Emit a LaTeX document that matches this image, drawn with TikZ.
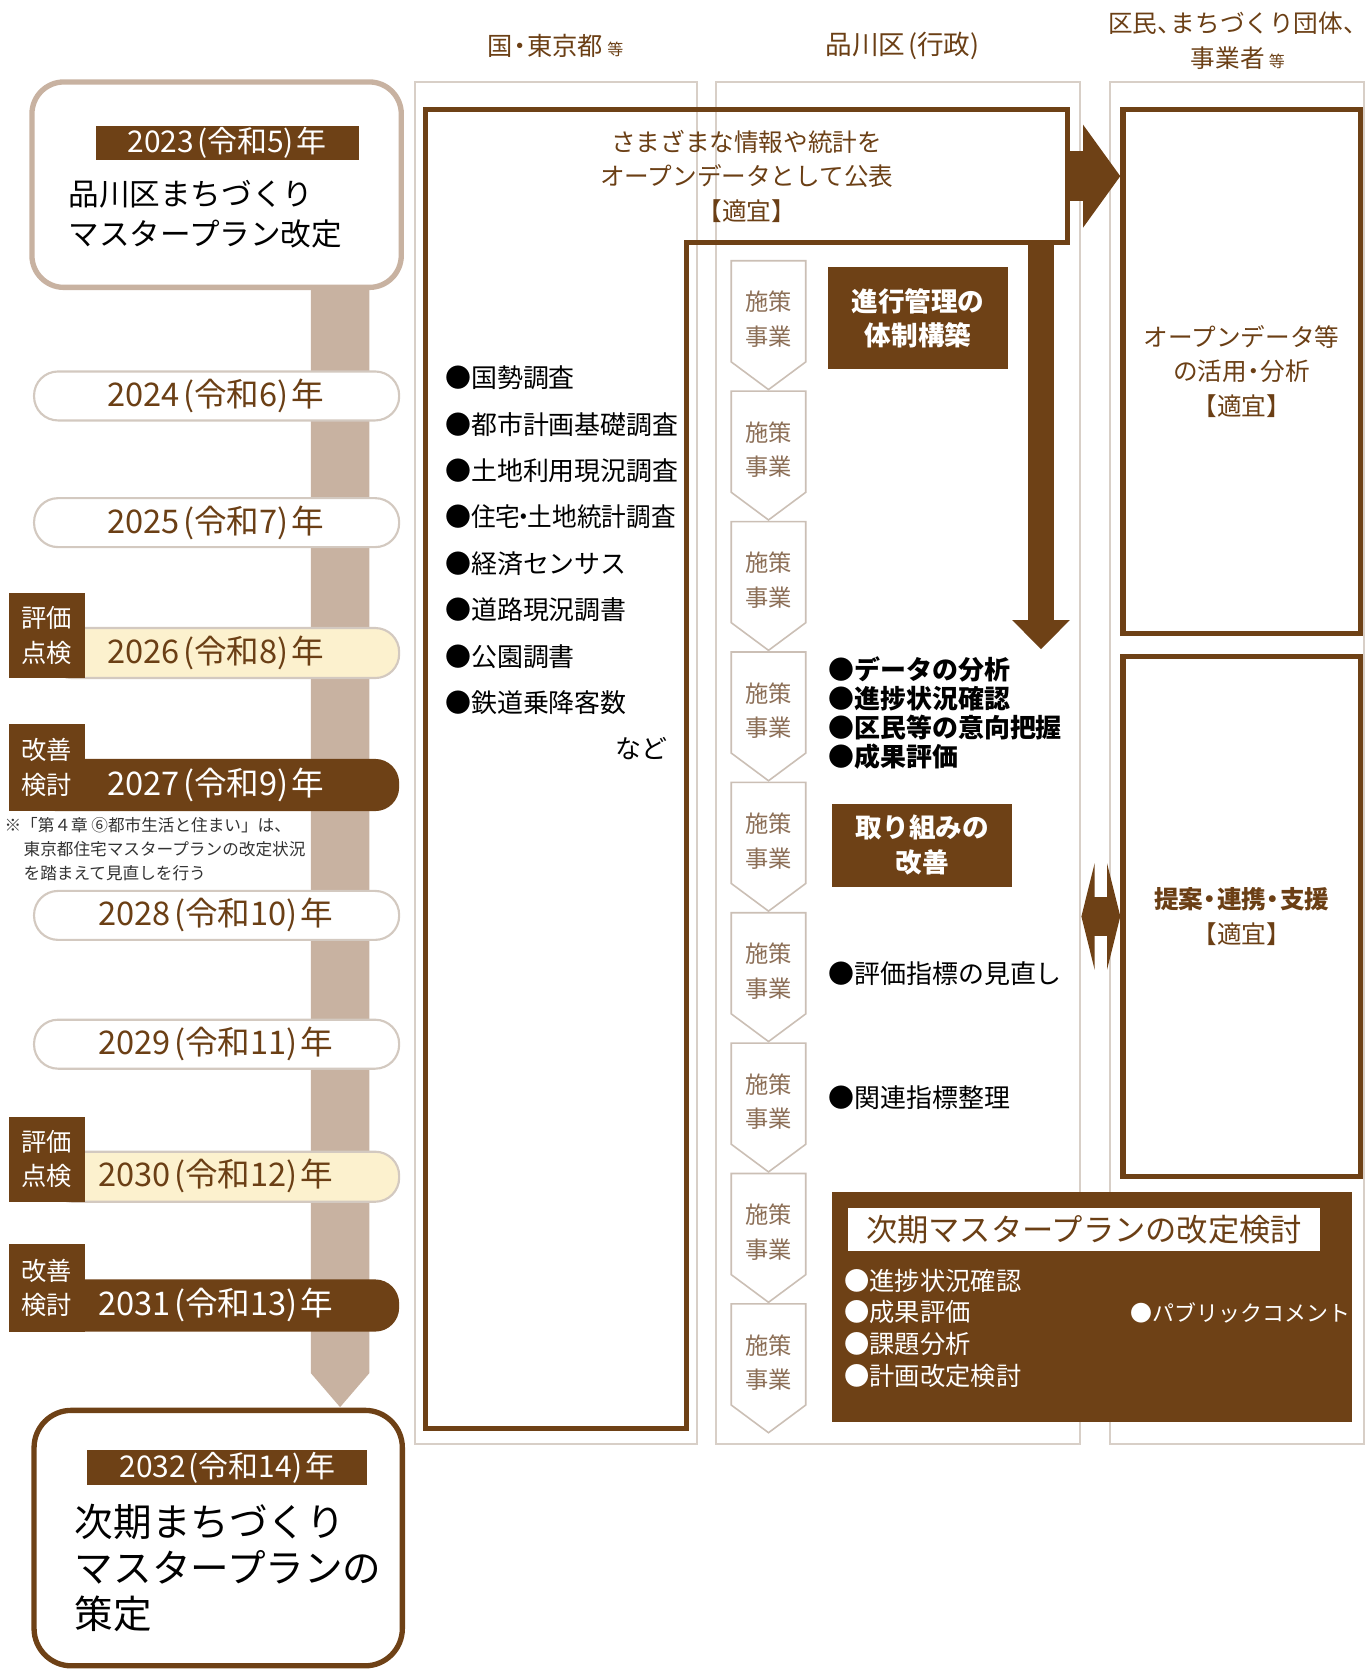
\documentclass[tikz,border=0pt]{standalone}
\usepackage{fontspec}
\usepackage{graphicx}
\setmainfont{Noto Sans CJK JP}
\usetikzlibrary{arrows.meta,positioning,fit,calc}
\definecolor{DarkBrown}{HTML}{6E4116}
\definecolor{BarTan}{HTML}{C8B2A1}
\definecolor{LaneGray}{HTML}{D8CFC7}
\definecolor{PillLine}{HTML}{D3C9C0}
\definecolor{Cream}{HTML}{FCF1CE}
\definecolor{ChevLine}{HTML}{CBBFB5}
\definecolor{ChevText}{HTML}{8C6F57}
\definecolor{YearBrown}{HTML}{6B3F15}
% narrow punctuation
\newcommand{\nk}{\kern-0.22em・\kern-0.22em}
\newcommand{\tn}{、\kern-0.45em}
\newcommand{\yp}[1]{\kern0.1em(#1)\kern0.1em}

\begin{document}
\begin{tikzpicture}[x=0.8pt,y=-0.8pt,
    lane/.style={draw=LaneGray,line width=1.5pt,inner sep=0pt},
    frame/.style={draw=DarkBrown,line width=4pt,inner sep=0pt},
    dbox/.style={fill=DarkBrown,inner sep=0pt},
    pill/.style={draw=PillLine,line width=1.6pt,fill=white,rounded corners=18pt,inner sep=0pt},
    head/.style={text=YearBrown,font=\fontsize{19}{26}\selectfont,align=center},
    brtext/.style={text=YearBrown,font=\fontsize{18.5}{26}\selectfont,align=center},
    wtext/.style={text=white,font=\fontsize{20}{26}\selectfont\bfseries,align=center},
    item/.style={anchor=west,inner sep=0pt,font=\fontsize{19.5}{22}\selectfont},
    chev/.style={draw=ChevLine,line width=1.2pt,fill=white},
    chevtext/.style={text=ChevText,font=\fontsize{17.5}{26}\selectfont,align=center},
    yeartext/.style={text=YearBrown,font=\fontsize{24.5}{26}\selectfont},
    lbl/.style={text=white,font=\fontsize{19}{26}\selectfont,align=center},
    fat/.style={draw=DarkBrown},
  ]
  \useasboundingbox (0,0) rectangle (1282,1568);
  % Lanes
  \node[lane,fit={(390,77) (655,1357)}] (lane1) {};
  \node[lane,fit={(673,77) (1015,1357)}] (lane2) {};
  \node[lane,fit={(1043,77) (1281,1357)}] (lane3) {};
  % Headers
  \node[head] (h1) at (522,43) {国\nk 東京都\,{\fontsize{12}{12}\selectfont 等}};
  \node[head,font=\fontsize{20}{26}\selectfont] (h2) at (849,43) {品川区\yp{行政}};
  \node[head,font=\fontsize{18.5}{26}\selectfont] (h3) at (1163,38) {区民\tn まちづくり団体、\\事業者\,{\fontsize{12}{12}\selectfont 等}};

  % Open data box
  \draw[frame,line join=miter] (400,103) -- (1003,103) -- (1003,228) -- (645,228)
    -- (645,1342) -- (400,1342) -- cycle;
  \node[inner sep=0pt,fit={(400,103) (1003,228)}] (pub) {};
  \node[brtext] at (pub.center) {さまざまな情報や統計を\\オープンデータとして公表\\【適宜】};

  % Data sources
  \foreach \s [count=\k] in {国勢調査,都市計画基礎調査,土地利用現況調査,
      \scalebox{0.95}[1]{住宅\kern-0.35em・\kern-0.35em 土地統計調査},
      経済センサス,道路現況調書,公園調書,鉄道乗降客数}
    \node[item] (src\k) at (418,{355+43.6*(\k-1)}) {●\s};
  \node[font=\fontsize{19.5}{22}\selectfont] (nado) at (603,703) {など};

  % Right lane
  \node[frame,fit={(1055,103) (1278,595)}] (use) {};
  \node[brtext] at (use.center) {オープンデータ等\\の活用\nk 分析\\【適宜】};
  \node[frame,fit={(1055,617) (1278,1105)}] (support) {};
  \node[brtext] at (support.center) {\bfseries 提案\nk 連携\nk 支援\\【適宜】};

  % Arrows
  \coordinate (dtip) at (978,610);
  \draw[fat,line width=38pt,-{Triangle[length=28pt,width=76pt]}] (pub.east) -- (pub.east -| use.west);
  \draw[fat,line width=19pt,-{Triangle[length=22pt,width=42pt]}] (pub.south -| dtip) -- (dtip);
  \draw[fat,line width=30pt,{Triangle[length=10pt,width=80pt]}-{Triangle[length=10pt,width=80pt]}]
    (lane2.east |- support.west) -- (support.west);

  % Measures
  \foreach \i in {0,...,8}{
    \pgfmathsetmacro{\t}{245+122.5*\i}
    \draw[chev] (687,\t) -- (757,\t) -- (757,\t+95) -- (722,\t+121) -- (687,\t+95) -- cycle;
    \node[chevtext] (sk\i) at (722,\t+55) {施策\\事業};
  }

  % Management
  \node[dbox,fit={(778,251) (947,347)}] (kanri) {};
  \node[wtext] at (kanri) {進行管理の\\体制構築};
  \foreach \s [count=\k] in {データの分析,進捗状況確認,区民等の意向把握,成果評価}
    \node[item,font=\fontsize{19.5}{22}\selectfont\bfseries] (chk\k) at (778,{629+27.4*(\k-1)}) {●\s};
  \node[dbox,fit={(782,755) (951,833)}] (kaizen) {};
  \node[wtext] at (kaizen) {取り組みの\\改善};
  \node[item] (shihyo) at (778,915) {●評価指標の見直し};
  \node[item] (kanren) at (778,1031) {●関連指標整理};

  % Next revision
  \node[dbox,fit={(782,1120) (1270,1336)}] (jiki) {};
  \node[fill=white,inner sep=0pt,fit={(797,1135) (1240,1175)}] (jikihead) {};
  \node[text=YearBrown,font=\fontsize{23.5}{26}\selectfont] at (jikihead) {次期マスタープランの改定検討};
  \foreach \s [count=\k] in {進捗状況確認,成果評価,課題分析,計画改定検討}
    \node[item,text=white,font=\fontsize{19}{22}\selectfont] (rev\k) at (793,{1203+30*(\k-1)}) {●\s};
  \node[item,text=white,font=\fontsize{16.5}{22}\selectfont] (pubcom) at (1062,1233) {●パブリックコメント};

  % Timeline
  \fill[BarTan] (292,265) -- (347,265) -- (347,1290) -- (319.5,1322) -- (292,1290) -- cycle;
  \node[draw=BarTan,line width=4pt,fill=white,rounded corners=24pt,inner sep=0pt,
    fit={(30,77) (377,270)}] (y2023) {};
  \node[dbox,fit={(90,118) (337,150)}] (l2023) {};
  \node[lbl,font=\fontsize{22.5}{26}\selectfont] at (l2023) {2023\yp{令和5}年};
  \node[anchor=west,align=left,font=\fontsize{23}{30}\selectfont] (t2023) at (60,201)
    {品川区まちづくり\\マスタープラン改定};

  \foreach \yr/\rw/\yc in {2024/6/372,2025/7/491,2028/10/860,2029/11/981}{
    \node[pill,fit={(32,\yc-23) (375,\yc+23)}] (p\yr) {};
    \node[yeartext] at (203,\yc) {\yr\yp{令和\rw}年};
  }
  \foreach \yr/\rw/\yc in {2026/8/613,2030/12/1105}{
    \node[pill,fill=Cream,fit={(45,\yc-23) (375,\yc+24)}] (p\yr) {};
    \node[dbox,fit={(8,\yc-56) (80,\yc+24)}] (q\yr) {};
    \node[lbl] at (q\yr) {評価\\点検};
    \node[yeartext] at (203,\yc) {\yr\yp{令和\rw}年};
  }
  \foreach \yr/\rw/\yc in {2027/9/737,2031/13/1226}{
    \node[pill,draw=none,fill=DarkBrown,fit={(30,\yc-24) (375,\yc+25)}] (p\yr) {};
    \node[dbox,fit={(8,\yc-57) (80,\yc+25)}] (q\yr) {};
    \node[lbl] at (q\yr) {改善\\検討};
    \node[yeartext,text=white] at (203,\yc) {\yr\yp{令和\rw}年};
  }
  % Note
  \node[item,text=black!80,font=\fontsize{12.5}{15}\selectfont] (note1) at (4,775) {※「第４章\ ⑥都市生活と住まい」は、};
  \node[item,text=black!80,font=\fontsize{12.5}{15}\selectfont] (note2) at (22,798) {東京都住宅マスタープランの改定状況};
  \node[item,text=black!80,font=\fontsize{12.5}{15}\selectfont] (note3) at (22,820) {を踏まえて見直しを行う};

  \node[draw=DarkBrown,line width=4pt,fill=white,rounded corners=28pt,inner sep=0pt,
    fit={(32,1325) (378,1565)}] (y2032) {};
  \node[dbox,fit={(82,1362) (345,1395)}] (l2032) {};
  \node[lbl,font=\fontsize{22.5}{26}\selectfont] at (l2032) {2032\yp{令和14}年};
  \node[anchor=west,align=left,font=\fontsize{29}{34.5}\selectfont] (t2032) at (66,1473)
    {次期まちづくり\\マスタープランの\\策定};
\end{tikzpicture}
\end{document}
